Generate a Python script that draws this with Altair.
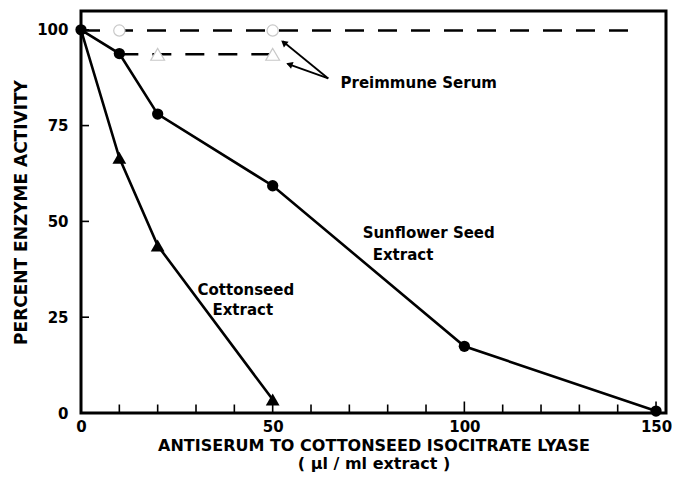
import altair as alt
import pandas as pd

# ---- data ----
sun_x = [0, 10, 20, 50, 100, 150]
sun_y = [100, 93.8, 78.0, 59.3, 17.4, 0.5]
cot_x = [0, 10, 20, 50]
cot_y = [100, 66.6, 43.7, 3.5]
pre_sun_x = [0, 146]
pre_sun_y = [99.8, 99.8]
pre_cot_x = [10, 50]
pre_cot_y = [93.6, 93.6]
open_circle_x = [10, 50]
open_circle_y = [99.8, 99.8]
open_tri_x = [20, 50]
open_tri_y = [93.6, 93.6]
y_tick_vals = [0, 25, 50, 75, 100]
x_minor_ticks = [10, 20, 30, 40, 60, 70, 80, 90, 110, 120, 130, 140]
x_major_ticks = [50, 100, 150]
x_label_vals = [0, 50, 100, 150]

FONT = "DejaVu Sans"

xs = alt.Scale(domain=[0, 152.6], nice=False, zero=False)
ys = alt.Scale(domain=[0, 104.9], nice=False, zero=False)

x_axis = alt.Axis(values=x_label_vals, ticks=False, domain=False, grid=False,
                  labelFont=FONT, labelFontSize=15, labelFontWeight="bold",
                  labelColor="black", labelPadding=6, labelFlush=False,
                  title=["ANTISERUM TO COTTONSEED ISOCITRATE LYASE", "( \u00b5l / ml extract )"],
                  titleFont=FONT, titleFontSize=16, titleFontWeight="bold",
                  titleColor="black", titlePadding=3, titleLineHeight=18)
y_axis = alt.Axis(values=y_tick_vals, ticks=False, domain=False, grid=False,
                  labelFont=FONT, labelFontSize=15, labelFontWeight="bold",
                  labelColor="black", labelPadding=13, labelFlush=False,
                  title="PERCENT ENZYME ACTIVITY",
                  titleFont=FONT, titleFontSize=17, titleFontWeight="bold",
                  titleColor="black", titlePadding=6)


def X(f):
    return alt.X(f, scale=xs, axis=x_axis)


def Y(f):
    return alt.Y(f, scale=ys, axis=y_axis)


lines_df = pd.concat([
    pd.DataFrame({"s": "sun", "x": sun_x, "y": sun_y}),
    pd.DataFrame({"s": "cot", "x": cot_x, "y": cot_y}),
])
dash_df = pd.concat([
    pd.DataFrame({"s": "psun", "x": pre_sun_x, "y": pre_sun_y}),
    pd.DataFrame({"s": "pcot", "x": pre_cot_x, "y": pre_cot_y}),
])

main_lines = alt.Chart(lines_df).mark_line(color="black", strokeWidth=2.6).encode(
    x=X("x:Q"), y=Y("y:Q"), detail="s:N",
)

dash_lines = alt.Chart(dash_df).mark_line(color="black", strokeWidth=2.4, strokeDash=[19, 14]).encode(
    x=X("x:Q"), y=Y("y:Q"), detail="s:N",
)

open_c = alt.Chart(pd.DataFrame({"x": open_circle_x, "y": open_circle_y})).mark_point(
    shape="circle", size=127, filled=False, stroke="#c8c8c8", strokeWidth=1.2, fill="white", fillOpacity=1
).encode(x=X("x:Q"), y=Y("y:Q"))

open_t = alt.Chart(pd.DataFrame({"x": open_tri_x, "y": open_tri_y})).mark_point(
    shape="triangle-up", size=190, filled=False, stroke="#c8c8c8", strokeWidth=1.2, fill="white", fillOpacity=1
).encode(x=X("x:Q"), y=Y("y:Q"))

sun_pts = alt.Chart(pd.DataFrame({"x": sun_x, "y": sun_y})).mark_point(
    shape="circle", size=127, filled=True, color="black", opacity=1
).encode(x=X("x:Q"), y=Y("y:Q"))

cot_pts = alt.Chart(pd.DataFrame({"x": cot_x[1:], "y": cot_y[1:]})).mark_point(
    shape="triangle-up", size=190, filled=True, color="black", opacity=1
).encode(x=X("x:Q"), y=Y("y:Q"))

# inward ticks (clipped half of each tick is hidden outside the frame)
ytick = alt.Chart(pd.DataFrame({"x": [0] * len(y_tick_vals), "y": y_tick_vals})).mark_tick(
    orient="horizontal", size=16, thickness=1.6, color="black", clip=True, opacity=1
).encode(x=X("x:Q"), y=Y("y:Q"))

xtick_minor = alt.Chart(pd.DataFrame({"x": x_minor_ticks, "y": [0] * len(x_minor_ticks)})).mark_tick(
    orient="vertical", size=17, thickness=1.6, color="black", clip=True, opacity=1
).encode(x=X("x:Q"), y=Y("y:Q"))

xtick_major = alt.Chart(pd.DataFrame({"x": x_major_ticks, "y": [0] * len(x_major_ticks)})).mark_tick(
    orient="vertical", size=23, thickness=1.6, color="black", clip=True, opacity=1
).encode(x=X("x:Q"), y=Y("y:Q"))

# annotations
labels_df = pd.DataFrame({
    "t": ["Preimmune Serum", "Sunflower Seed", "Extract", "Cottonseed", "Extract"],
    "x": [88.1, 90.7, 84.0, 43.0, 42.2],
    "y": [86.0, 46.9, 41.2, 32.1, 26.9],
})
labels = alt.Chart(labels_df).mark_text(
    font=FONT, fontSize=15, fontWeight="bold", color="black", align="center", baseline="middle"
).encode(x=X("x:Q"), y=Y("y:Q"), text="t:N")

arrow_df = pd.DataFrame({
    "x": [64.5, 64.5], "y": [87.3, 87.3],
    "x2": [52.6, 53.9], "y2": [97.0, 91.1],
    "hx": [53.1, 54.6], "hy": [96.5, 90.9],
    "ang": [309, 290],
})
arrow_lines = alt.Chart(arrow_df).mark_rule(color="black", strokeWidth=1.8).encode(
    x=X("x:Q"), y=Y("y:Q"), x2="x2:Q", y2="y2:Q",
)
arrow_heads = alt.Chart(arrow_df).mark_point(
    shape="triangle", size=55, filled=True, color="black", opacity=1
).encode(
    x=X("hx:Q"), y=Y("hy:Q"), angle=alt.Angle("ang:Q", scale=None),
)

chart = alt.layer(
    main_lines, dash_lines, open_c, open_t, sun_pts, cot_pts,
    ytick, xtick_minor, xtick_major, labels, arrow_lines, arrow_heads,
).properties(
    width=585, height=402,
    autosize=alt.AutoSizeParams(type="none"),
    padding={"left": 73, "top": 3, "right": 6, "bottom": 61},
    background="white",
).configure_view(stroke="black", strokeWidth=3)

chart.save("out.html", embed_options={"renderer": "svg", "actions": False})
